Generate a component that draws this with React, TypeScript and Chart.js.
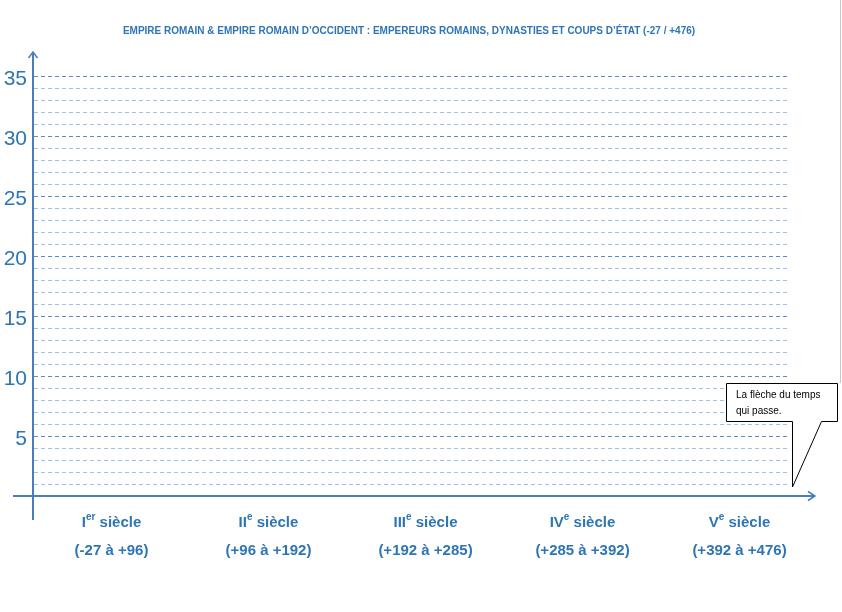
import React, { useEffect, useRef } from "react";
import { Chart, registerables } from "chart.js";

Chart.register(...registerables);

const TITLE =
  "EMPIRE ROMAIN & EMPIRE ROMAIN D\u2019OCCIDENT : EMPEREURS ROMAINS, DYNASTIES ET COUPS D\u2019\u00C9TAT (-27 / +476)";
const centuryNumerals = ["I", "II", "III", "IV", "V"];
const centurySuffixes = ["er", "e", "e", "e", "e"];
const centuryWord = " si\u00E8cle";
const centuryRanges = ["(-27 \u00E0 +96)", "(+96 \u00E0 +192)", "(+192 \u00E0 +285)", "(+285 \u00E0 +392)", "(+392 \u00E0 +476)"];
const categories = centuryNumerals.map((n, i) => n + centurySuffixes[i] + centuryWord);
const seriesValues: (number | null)[] = [null, null, null, null, null];
const yMin = 0;
const yMax = 35;
const yMajorStep = 5;
const calloutLines = ["La fl\u00E8che du temps", "qui passe."];

const BLUE = "#2E75B6";
const AXIS = "#4A7EBB";
const MAJOR = "#5A8DC8";
const MINOR = "#9DC3E6";

const decorPlugin = {
  id: "decor",
  beforeDatasetsDraw(chart: any) {
    const { ctx, chartArea } = chart;
    const y = chart.scales.y;
    ctx.save();
    ctx.lineWidth = 1;
    ctx.setLineDash([4, 3]);
    for (const t of y.ticks) {
      if (t.value <= yMin) continue;
      const py = Math.round(y.getPixelForValue(t.value)) + 0.5;
      ctx.strokeStyle = t.value % yMajorStep === 0 ? MAJOR : MINOR;
      ctx.beginPath();
      ctx.moveTo(chartArea.left + 1, py);
      ctx.lineTo(chartArea.right - 28, py);
      ctx.stroke();
    }
    ctx.restore();
  },
  afterDraw(chart: any) {
    const { ctx, chartArea } = chart;
    const x = chart.scales.x;
    const y = chart.scales.y;
    const ax = chartArea.left;
    const ay = y.getPixelForValue(yMin);
    ctx.save();
    // axes
    ctx.strokeStyle = AXIS;
    ctx.lineWidth = 2;
    ctx.setLineDash([]);
    ctx.beginPath();
    ctx.moveTo(ax, chartArea.bottom + 24);
    ctx.lineTo(ax, chartArea.top - 24);
    ctx.moveTo(chartArea.left - 20, ay);
    ctx.lineTo(chartArea.right - 3, ay);
    ctx.stroke();
    ctx.lineWidth = 1.5;
    ctx.beginPath();
    ctx.moveTo(ax - 4.5, chartArea.top - 18);
    ctx.lineTo(ax, chartArea.top - 24);
    ctx.lineTo(ax + 4.5, chartArea.top - 18);
    ctx.moveTo(chartArea.right - 10, ay - 4.5);
    ctx.lineTo(chartArea.right - 3, ay);
    ctx.lineTo(chartArea.right - 10, ay + 4.5);
    ctx.stroke();

    // x labels
    ctx.fillStyle = BLUE;
    ctx.textBaseline = "alphabetic";
    ctx.textAlign = "left";
    const mainFont = "bold 15px 'Liberation Sans', Arial, sans-serif";
    const supFont = "bold 10px 'Liberation Sans', Arial, sans-serif";
    centuryNumerals.forEach((num, i) => {
      const cx = x.getPixelForValue(i);
      ctx.font = mainFont;
      const wNum = ctx.measureText(num).width;
      const wWord = ctx.measureText(centuryWord).width;
      ctx.font = supFont;
      const wSup = ctx.measureText(centurySuffixes[i]).width;
      let sx = cx - (wNum + wSup + wWord) / 2;
      const base1 = chartArea.bottom + 31;
      ctx.font = mainFont;
      ctx.fillText(num, sx, base1);
      sx += wNum;
      ctx.font = supFont;
      ctx.fillText(centurySuffixes[i], sx, base1 - 7);
      sx += wSup;
      ctx.font = mainFont;
      ctx.fillText(centuryWord, sx, base1);
      ctx.textAlign = "center";
      ctx.fillText(centuryRanges[i], cx, chartArea.bottom + 59);
      ctx.textAlign = "left";
    });

    // callout
    const bx = chartArea.right - 92;
    const by = chartArea.top + 307;
    const bw = 111;
    const bh = 38;
    const tipX = chartArea.right - 26;
    const tipY = ay - 9;
    ctx.fillStyle = "#FFFFFF";
    ctx.strokeStyle = "#000000";
    ctx.lineWidth = 1;
    ctx.beginPath();
    ctx.moveTo(bx + 0.5, by + 0.5);
    ctx.lineTo(bx + bw + 0.5, by + 0.5);
    ctx.lineTo(bx + bw + 0.5, by + bh + 0.5);
    ctx.lineTo(tipX + 29.5, by + bh + 0.5);
    ctx.lineTo(tipX + 0.5, tipY);
    ctx.lineTo(tipX + 0.5, by + bh + 0.5);
    ctx.lineTo(bx + 0.5, by + bh + 0.5);
    ctx.closePath();
    ctx.fill();
    ctx.stroke();
    ctx.fillStyle = "#000000";
    ctx.font = "10px 'Liberation Sans', Arial, sans-serif";
    calloutLines.forEach((l, i) => ctx.fillText(l, bx + 10, by + 15 + i * 16));

    // page edge line
    ctx.strokeStyle = "#C8C8C8";
    ctx.beginPath();
    ctx.moveTo(840.5, 0);
    ctx.lineTo(840.5, by);
    ctx.stroke();
    ctx.restore();
  },
};

export default function App() {
  const ref = useRef<HTMLCanvasElement>(null);
  useEffect(() => {
    if (!ref.current) return;
    const chart = new Chart(ref.current, {
      type: "line",
      data: {
        labels: categories,
        datasets: [{ label: "Empereurs", data: seriesValues, borderColor: BLUE }],
      },
      options: {
        animation: false,
        responsive: false,
        layout: { padding: { left: 0, right: 24, top: 0, bottom: 116 } },
        plugins: {
          legend: { display: false },
          tooltip: { enabled: false },
          title: {
            display: true,
            text: TITLE,
            color: BLUE,
            font: { family: "'Liberation Sans', Arial, sans-serif", size: 10, weight: "bold", lineHeight: 1.2 },
            padding: { top: 25, bottom: 39 },
          },
        },
        scales: {
          x: { type: "category", display: false, offset: true },
          y: {
            min: yMin,
            max: yMax,
            grid: { display: false, drawTicks: false },
            border: { display: false },
            afterFit: (s: any) => {
              s.width = 33;
            },
            ticks: {
              stepSize: 1,
              autoSkip: false,
              padding: 6,
              labelOffset: 3,
              color: BLUE,
              font: { family: "'Liberation Sans', Arial, sans-serif", size: 21 },
              callback: (v: any) => (Number(v) % yMajorStep === 0 && Number(v) > yMin ? String(v) : ""),
            },
          },
        },
      },
      plugins: [decorPlugin],
    });
    return () => chart.destroy();
  }, []);
  return (
    <div style={{ position: "absolute", left: 0, top: 0, width: 842, height: 612, background: "#fff" }}>
      <canvas ref={ref} width={842} height={612} style={{ width: 842, height: 612 }} />
    </div>
  );
}
